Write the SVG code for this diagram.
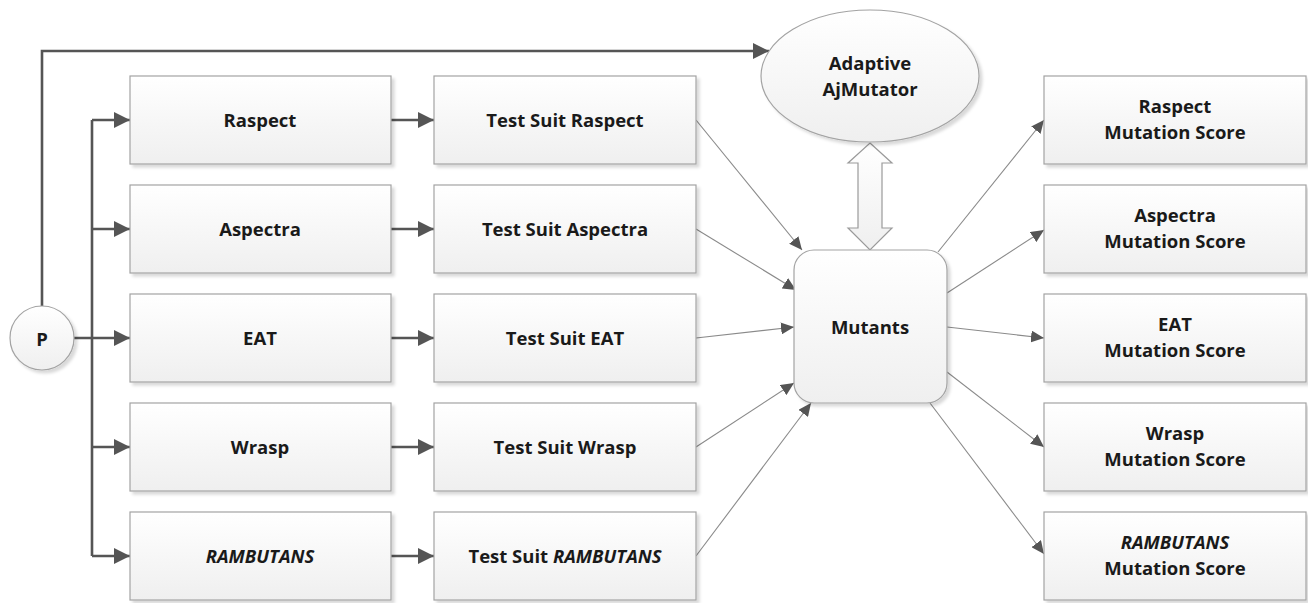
<svg xmlns="http://www.w3.org/2000/svg" width="1308" height="603" viewBox="0 0 1308 603">
  <defs>
    <linearGradient id="boxFill" x1="0" y1="0" x2="0" y2="1">
      <stop offset="0" stop-color="#ffffff"/>
      <stop offset="1" stop-color="#efefef"/>
    </linearGradient>
    <filter id="shadow" x="-10%" y="-10%" width="130%" height="130%">
      <feDropShadow dx="3" dy="3" stdDeviation="1.5" flood-color="#000" flood-opacity="0.15"/>
    </filter>
    <marker id="arrowBig" markerUnits="userSpaceOnUse" markerWidth="17" markerHeight="17" refX="16" refY="8" orient="auto">
      <path d="M0,0 L16,8 L0,16 Z" fill="#555"/>
    </marker>
    <marker id="arrowSmall" markerUnits="userSpaceOnUse" markerWidth="14" markerHeight="12" refX="13" refY="6" orient="auto">
      <path d="M0,0 L13,6 L0,12 Z" fill="#555"/>
    </marker>
  </defs>
  <style>
    .box { fill: url(#boxFill); stroke: #a3a3a3; stroke-width: 1.2; filter: url(#shadow); }
    .label { font-family: "Open Sans", "Liberation Sans", sans-serif; font-weight: bold; font-size: 18.5px; fill: #1a1a1a; text-anchor: middle; }
    .it { font-style: italic; }
    .thick { fill: none; stroke: #555; stroke-width: 2.6; }
    .thin { fill: none; stroke: #8a8a8a; stroke-width: 1.1; }
  </style>

  <rect width="1308" height="603" fill="#ffffff"/>

  <!-- connectors -->
  <g id="connectors">
    <!-- P to adaptive mutator -->
    <path class="thick" d="M42,306 V51 H769" marker-end="url(#arrowBig)"/>
    <!-- P trunk to tool boxes -->
    <path class="thick" d="M92,120 V556"/>
    <path class="thick" d="M92,120 H130" marker-end="url(#arrowBig)"/>
    <path class="thick" d="M92,229 H130" marker-end="url(#arrowBig)"/>
    <path class="thick" d="M74,338 H130" marker-end="url(#arrowBig)"/>
    <path class="thick" d="M92,447 H130" marker-end="url(#arrowBig)"/>
    <path class="thick" d="M92,556 H130" marker-end="url(#arrowBig)"/>
    <!-- tools to test suites -->
    <path class="thick" d="M391,120 H434" marker-end="url(#arrowBig)"/>
    <path class="thick" d="M391,229 H434" marker-end="url(#arrowBig)"/>
    <path class="thick" d="M391,338 H434" marker-end="url(#arrowBig)"/>
    <path class="thick" d="M391,447 H434" marker-end="url(#arrowBig)"/>
    <path class="thick" d="M391,556 H434" marker-end="url(#arrowBig)"/>
    <!-- test suites to mutants -->
    <path class="thin" d="M696,120 L802,250" marker-end="url(#arrowSmall)"/>
    <path class="thin" d="M696,229 L796,290" marker-end="url(#arrowSmall)"/>
    <path class="thin" d="M696,338 L794,327" marker-end="url(#arrowSmall)"/>
    <path class="thin" d="M696,447 L794,383" marker-end="url(#arrowSmall)"/>
    <path class="thin" d="M696,556 L811,403" marker-end="url(#arrowSmall)"/>
    <!-- mutants to scores -->
    <path class="thin" d="M938,252 L1044,120" marker-end="url(#arrowSmall)"/>
    <path class="thin" d="M947,293 L1044,230" marker-end="url(#arrowSmall)"/>
    <path class="thin" d="M947,327 L1044,338" marker-end="url(#arrowSmall)"/>
    <path class="thin" d="M947,372 L1044,447" marker-end="url(#arrowSmall)"/>
    <path class="thin" d="M930,403 L1044,554" marker-end="url(#arrowSmall)"/>
    <!-- two-way link between mutator and mutants -->
    <path d="M870,143 L892,163 L882,163 L882,228 L892,228 L870,250 L848,228 L858,228 L858,163 L848,163 Z" fill="url(#boxFill)" stroke="#9a9a9a" stroke-width="1.2"/>
  </g>

  <!-- program under test -->
  <g id="node-p">
    <circle class="box" cx="42" cy="338" r="32"/>
    <text class="label" x="42" y="346" font-size="22">P</text>
  </g>

  <!-- tools -->
  <g id="node-raspect">
    <rect class="box" x="130" y="76" width="261" height="88"/>
    <text class="label" x="260" y="127">Raspect</text>
  </g>
  <g id="node-aspectra">
    <rect class="box" x="130" y="185" width="261" height="88"/>
    <text class="label" x="260" y="236">Aspectra</text>
  </g>
  <g id="node-eat">
    <rect class="box" x="130" y="294" width="261" height="88"/>
    <text class="label" x="260" y="345">EAT</text>
  </g>
  <g id="node-wrasp">
    <rect class="box" x="130" y="403" width="261" height="88"/>
    <text class="label" x="260" y="454">Wrasp</text>
  </g>
  <g id="node-rambutans">
    <rect class="box" x="130" y="512" width="261" height="88"/>
    <text class="label it" x="260" y="563">RAMBUTANS</text>
  </g>

  <!-- test suites -->
  <g id="node-ts-raspect">
    <rect class="box" x="434" y="76" width="262" height="88"/>
    <text class="label" x="565" y="127">Test Suit Raspect</text>
  </g>
  <g id="node-ts-aspectra">
    <rect class="box" x="434" y="185" width="262" height="88"/>
    <text class="label" x="565" y="236">Test Suit Aspectra</text>
  </g>
  <g id="node-ts-eat">
    <rect class="box" x="434" y="294" width="262" height="88"/>
    <text class="label" x="565" y="345">Test Suit EAT</text>
  </g>
  <g id="node-ts-wrasp">
    <rect class="box" x="434" y="403" width="262" height="88"/>
    <text class="label" x="565" y="454">Test Suit Wrasp</text>
  </g>
  <g id="node-ts-rambutans">
    <rect class="box" x="434" y="512" width="262" height="88"/>
    <text class="label" x="565" y="563">Test Suit <tspan class="it">RAMBUTANS</tspan></text>
  </g>

  <!-- mutation tool -->
  <g id="node-adaptive">
    <ellipse class="box" cx="870" cy="76" rx="109" ry="66"/>
    <text class="label" x="870" y="70">Adaptive</text>
    <text class="label" x="870" y="96">AjMutator</text>
  </g>

  <!-- generated mutants -->
  <g id="node-mutants">
    <rect class="box" x="794" y="250" width="153" height="153" rx="20" ry="20"/>
    <text class="label" x="870" y="334" font-size="21">Mutants</text>
  </g>

  <!-- mutation scores -->
  <g id="node-ms-raspect">
    <rect class="box" x="1044" y="76" width="262" height="88"/>
    <text class="label" x="1175" y="113">Raspect</text>
    <text class="label" x="1175" y="139">Mutation Score</text>
  </g>
  <g id="node-ms-aspectra">
    <rect class="box" x="1044" y="185" width="262" height="88"/>
    <text class="label" x="1175" y="222">Aspectra</text>
    <text class="label" x="1175" y="248">Mutation Score</text>
  </g>
  <g id="node-ms-eat">
    <rect class="box" x="1044" y="294" width="262" height="88"/>
    <text class="label" x="1175" y="331">EAT</text>
    <text class="label" x="1175" y="357">Mutation Score</text>
  </g>
  <g id="node-ms-wrasp">
    <rect class="box" x="1044" y="403" width="262" height="88"/>
    <text class="label" x="1175" y="440">Wrasp</text>
    <text class="label" x="1175" y="466">Mutation Score</text>
  </g>
  <g id="node-ms-rambutans">
    <rect class="box" x="1044" y="512" width="262" height="88"/>
    <text class="label it" x="1175" y="549">RAMBUTANS</text>
    <text class="label" x="1175" y="575">Mutation Score</text>
  </g>
</svg>
